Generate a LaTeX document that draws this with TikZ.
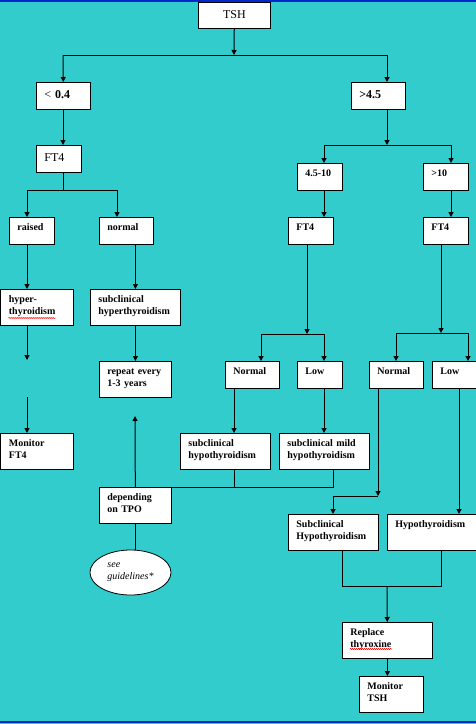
\documentclass[tikz,border=0pt]{standalone}
\usepackage{fontspec}
\setmainfont{Liberation Serif}
\usetikzlibrary{arrows.meta, shapes.geometric, decorations.pathmorphing, calc}
\definecolor{bgcyan}{RGB}{51,204,204}
\definecolor{edgeblue}{RGB}{0,40,204}

\begin{document}
\begin{tikzpicture}[x=1pt, y=-1pt,
  box/.style={draw, fill=white, line width=0.8pt, anchor=north west,
              inner xsep=8pt, inner ysep=5pt, align=left,
              font=\fontsize{10}{12}\selectfont\bfseries,
              text height=8pt, text depth=9pt},
  tall/.style={text depth=18pt},
  big/.style={font=\fontsize{12}{14}\selectfont, text height=11pt, text depth=6pt},
  bigb/.style={big, font=\fontsize{12}{14}\selectfont\bfseries},
  w45/.style={text width=29pt},
  w54/.style={text width=38pt},
  w64/.style={text width=48pt},
  w72/.style={text width=56pt},
  w90/.style={text width=74pt},
  see/.style={ellipse, draw, fill=white, line width=0.8pt, minimum width=81pt,
              minimum height=45pt, inner sep=0pt, align=left,
              font=\fontsize{10}{12}\selectfont\itshape},
  ln/.style={line width=1pt},
  arr/.style={-{Triangle[length=5pt, width=5pt]}, line width=1pt},
  squig/.style={red, line width=0.5pt, decorate,
                decoration={snake, amplitude=0.6pt, segment length=2pt}}
]
\fill[bgcyan] (0,0) rectangle (476,724);
\useasboundingbox (0,0) rectangle (476,724);
\fill[edgeblue] (0,0) rectangle (476,1.5);
\fill[edgeblue] (0,720.5) rectangle (476,722.5);

% top
\node[box, big, w72, align=center, text depth=5pt] (tsh) at (198,2) {TSH};
\node[box, bigb, w54] (lt) at (36,82) {{\mdseries <} 0.4};
\node[box, bigb, w54] (gt) at (351,82) {>4.5};

% low TSH branch
\node[box, big, w45] (ftl) at (36,145) {FT4};
\node[box, w45] (raised) at (9,217) {raised};
\node[box, w54] (normal) at (99,217) {normal};
\node[box, tall, w72] (hyper) at (0.5,289) {hyper-\\thyroidism};
\node[box, tall, w90] (subhyper) at (90,289) {subclinical\\hyperthyroidism};
\node[box, tall, w72] (rpt) at (99,361) {repeat every\\1-3 years};
\node[box, tall, w72] (monft) at (0.5,433) {Monitor\\FT4};
\node[box, tall, w72] (dep) at (99,487) {depending\\on TPO};
\node[see] (guide) at (130.5,572.5) {see\\guidelines*};

% high TSH branch
\node[box, w45] (mid) at (297,163) {4.5-10};
\node[box, w45] (high) at (423,163) {>10};
\node[box, w45] (ftm) at (288,217) {FT4};
\node[box, w45] (ftr) at (423,217) {FT4};
\node[box, w54] (nm) at (225,361) {Normal};
\node[box, w45] (lm) at (297,361) {Low};
\node[box, w54] (nr) at (369,361) {Normal};
\node[box, w54] (lr) at (432,361) {Low};
\node[box, tall, w90] (subhypo) at (180,433) {subclinical\\hypothyroidism};
\node[box, tall, w90] (submild) at (279,433) {subclinical mild\\hypothyroidism};
\node[box, tall, w90] (subHypo) at (288,514) {Subclinical\\Hypothyroidism};
\node[box, tall, w90] (hypo) at (387,514) {Hypothyroidism};
\node[box, tall, w90] (replace) at (342,622) {Replace\\thyroxine};
\node[box, tall, w64] (montsh) at (359,676) {Monitor\\TSH};

% spelling marks
\draw[squig] ($(hyper.north west)+(8,29)$) -- +(47,0);
\draw[squig] ($(replace.north west)+(8,27)$) -- +(42,0);

% junctions
\coordinate (t0) at (234,55);
\coordinate (tl) at (63,55);
\coordinate (tr) at (387,55);
\coordinate (f0) at (63,190);
\coordinate (fl) at (27,190);
\coordinate (fr) at (117,190);
\coordinate (h1) at (27,360);
\coordinate (h2) at (27,397);
\coordinate (r1) at (135,416);
\coordinate (g0) at (387,145);
\coordinate (gl) at (324,145);
\coordinate (gr) at (451,145);
\coordinate (m0) at (307,334);
\coordinate (ml) at (261,334);
\coordinate (mr) at (324,334);
\coordinate (q0) at (441,333);
\coordinate (ql) at (396,333);
\coordinate (qr) at (468,333);
\coordinate (s1) at (234,487);
\coordinate (s2) at (333,487);
\coordinate (u1) at (378,496);
\coordinate (u2) at (333,496);
\coordinate (lx) at (459,400);
\coordinate (v0) at (387,586);
\coordinate (v1) at (342,586);
\coordinate (v2) at (441,586);

% top connectors
\draw[arr] (tsh) -- (t0);
\draw[ln] (tl) -- (tr);
\draw[arr] (tl) -- (lt);
\draw[arr] (tr) -- (tr |- gt.north);

% left connectors
\draw[arr] (tl |- lt.south) -- (tl |- ftl.north);
\draw[ln] (f0 |- ftl.south) -- (f0);
\draw[ln] (fl) -- (fr);
\draw[arr] (fl) -- (fl |- raised.north);
\draw[arr] (fr) -- (fr |- normal.north);
\draw[arr] (fl |- raised.south) -- (fl |- hyper.north);
\draw[arr] (subhyper.north |- normal.south) -- (subhyper.north);
\draw[arr] (subhyper) -- (rpt);
\draw[arr] (fl |- hyper.south) -- (h1);
\draw[arr] (h2) -- (h2 |- monft.north);
\draw[arr] (dep) -- (r1);
\draw[ln] (r1 |- dep.south) -- (r1 |- guide.north);

% right connectors
\draw[arr] (tr |- gt.south) -- (g0);
\draw[ln] (gl) -- (gr);
\draw[arr] (gl) -- (gl |- mid.north);
\draw[arr] (gr) -- (gr |- high.north);
\draw[arr] (gl |- mid.south) -- (gl |- ftm.north);
\draw[arr] (gr |- high.south) -- (gr |- ftr.north);
\draw[arr] (m0 |- ftm.south) -- (m0);
\draw[ln] (ml) -- (mr);
\draw[arr] (ml) -- (ml |- nm.north);
\draw[arr] (mr) -- (mr |- lm.north);
\draw[arr] (q0 |- ftr.south) -- (q0);
\draw[ln] (ql) -- (qr);
\draw[arr] (ql) -- (ql |- nr.north);
\draw[arr] (qr) -- (qr |- lr.north);
\draw[arr] (s1 |- nm.south) -- (s1 |- subhypo.north);
\draw[arr] (mr |- lm.south) -- (mr |- submild.north);
\draw[ln] (s1 |- subhypo.south) -- (s1);
\draw[ln] (s2 |- submild.south) -- (s2) -- (dep.north east);
\draw[arr] (u1 |- nr.south) -- (u1);
\draw[ln] (u1) -- (u2);
\draw[arr] (u2) -- (u2 |- subHypo.north);
\draw[arr] (lx |- lr.south) -- (lx |- hypo.north);
\draw[ln] (v1 |- subHypo.south) -- (v1) -- (v2) -- (v2 |- hypo.south);
\draw[arr] (v0) -- (replace);
\draw[arr] (replace.south) -- (replace.south |- montsh.north);
\end{tikzpicture}
\end{document}
